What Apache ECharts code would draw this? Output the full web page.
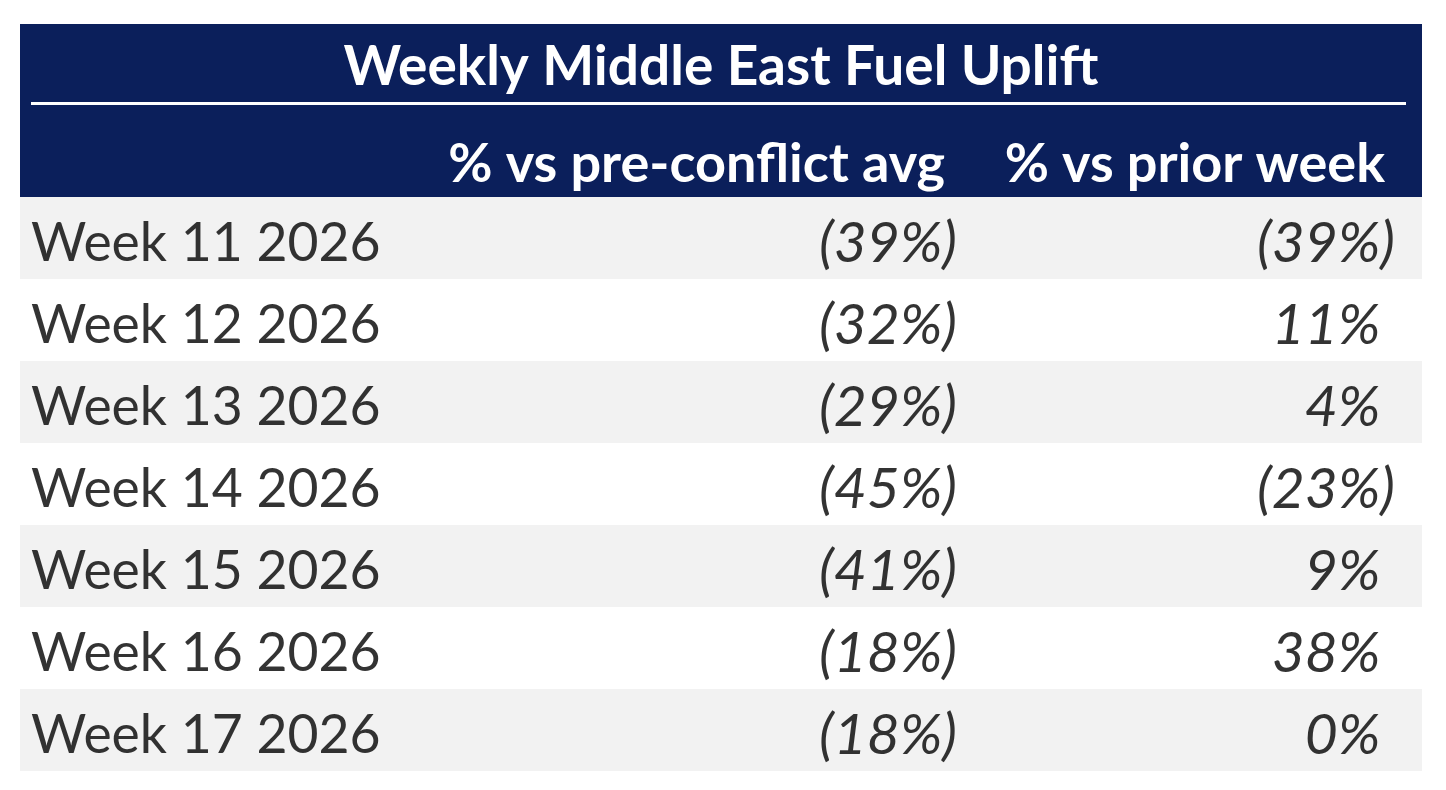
<!DOCTYPE html>
<html>
<head>
<meta charset="utf-8">
<script src="https://cdn.jsdelivr.net/npm/echarts@6/dist/echarts.min.js"></script>
<style>
html,body{margin:0;padding:0;background:#fff;}
#chart{width:1446px;height:790px;}
</style>
</head>
<body>
<div id="chart"></div>
<script>
var title = 'Weekly Middle East Fuel Uplift';
var columnHeaders = ['% vs pre-conflict avg', '% vs prior week'];
var weeks = ['Week 11 2026', 'Week 12 2026', 'Week 13 2026', 'Week 14 2026', 'Week 15 2026', 'Week 16 2026', 'Week 17 2026'];
var vsPreConflict = [-39, -32, -29, -45, -41, -18, -18];
var vsPriorWeek = [-39, 11, 4, -23, 9, 38, 0];

var NAVY = '#0B1F5B';
var FONT = 'Lato';
var WEEK_SIZE = 53.5;
var VALUE_SIZE = 57;

var chart = echarts.init(document.getElementById('chart'));

function fmt(v) {
  if (v < 0) return '{n|(' + Math.abs(v) + '%)}';
  return '{n|' + v + '%}{p|)}';
}

var valueLabel = {
  show: true,
  position: 'left',
  distance: 0,
  offset: [0, 6],
  rich: {
    n: { fontFamily: FONT, fontSize: VALUE_SIZE, fontStyle: 'italic', color: '#000' },
    p: { fontFamily: FONT, fontSize: VALUE_SIZE, fontStyle: 'italic', color: 'rgba(0,0,0,0)' }
  }
};

// column anchors (grid-relative x positions)
var COL_WEEK = 11, COL1 = 937, COL2 = 1375;

var option = {
  backgroundColor: '#fff',
  animation: false,
  grid: { left: 20, top: 197, width: 1402, height: 574 },
  xAxis: { type: 'value', min: 0, max: 1402, show: false },
  yAxis: {
    type: 'category', data: weeks, inverse: true,
    axisLine: { show: false }, axisTick: { show: false }, axisLabel: { show: false },
    splitLine: { show: false },
    splitArea: { show: true, areaStyle: { color: ['#F2F2F2', '#FFFFFF'] } }
  },
  graphic: [
    { type: 'rect', shape: { x: 20, y: 24, width: 1402, height: 173 }, style: { fill: NAVY }, z: 0 },
    { type: 'rect', shape: { x: 31, y: 102, width: 1375, height: 3 }, style: { fill: '#fff' }, z: 1 },
    { type: 'text', x: 721, y: 67, style: { text: title, fill: '#fff', font: 'bold 55px ' + FONT, textAlign: 'center', textVerticalAlign: 'middle' }, z: 2 },
    { type: 'text', x: 945, y: 165, style: { text: columnHeaders[0], fill: '#fff', font: 'bold 54px ' + FONT, textAlign: 'right', textVerticalAlign: 'middle' }, z: 2 },
    { type: 'text', x: 1385, y: 165, style: { text: columnHeaders[1], fill: '#fff', font: 'bold 54px ' + FONT, textAlign: 'right', textVerticalAlign: 'middle' }, z: 2 }
  ],
  series: [
    {
      type: 'scatter', symbolSize: 0,
      data: weeks.map(function (w, i) { return [COL_WEEK, i]; }),
      label: {
        show: true, position: 'right', distance: 0, offset: [0, 6],
        formatter: function (p) { return weeks[p.dataIndex]; },
        fontFamily: FONT, fontSize: WEEK_SIZE, color: '#000'
      }
    },
    {
      type: 'scatter', symbolSize: 0,
      data: vsPreConflict.map(function (v, i) { return [COL1, i, v]; }),
      label: Object.assign({}, valueLabel, { formatter: function (p) { return fmt(p.value[2]); } })
    },
    {
      type: 'scatter', symbolSize: 0,
      data: vsPriorWeek.map(function (v, i) { return [COL2, i, v]; }),
      label: Object.assign({}, valueLabel, { formatter: function (p) { return fmt(p.value[2]); } })
    }
  ]
};
chart.setOption(option);
</script>
</body>
</html>
